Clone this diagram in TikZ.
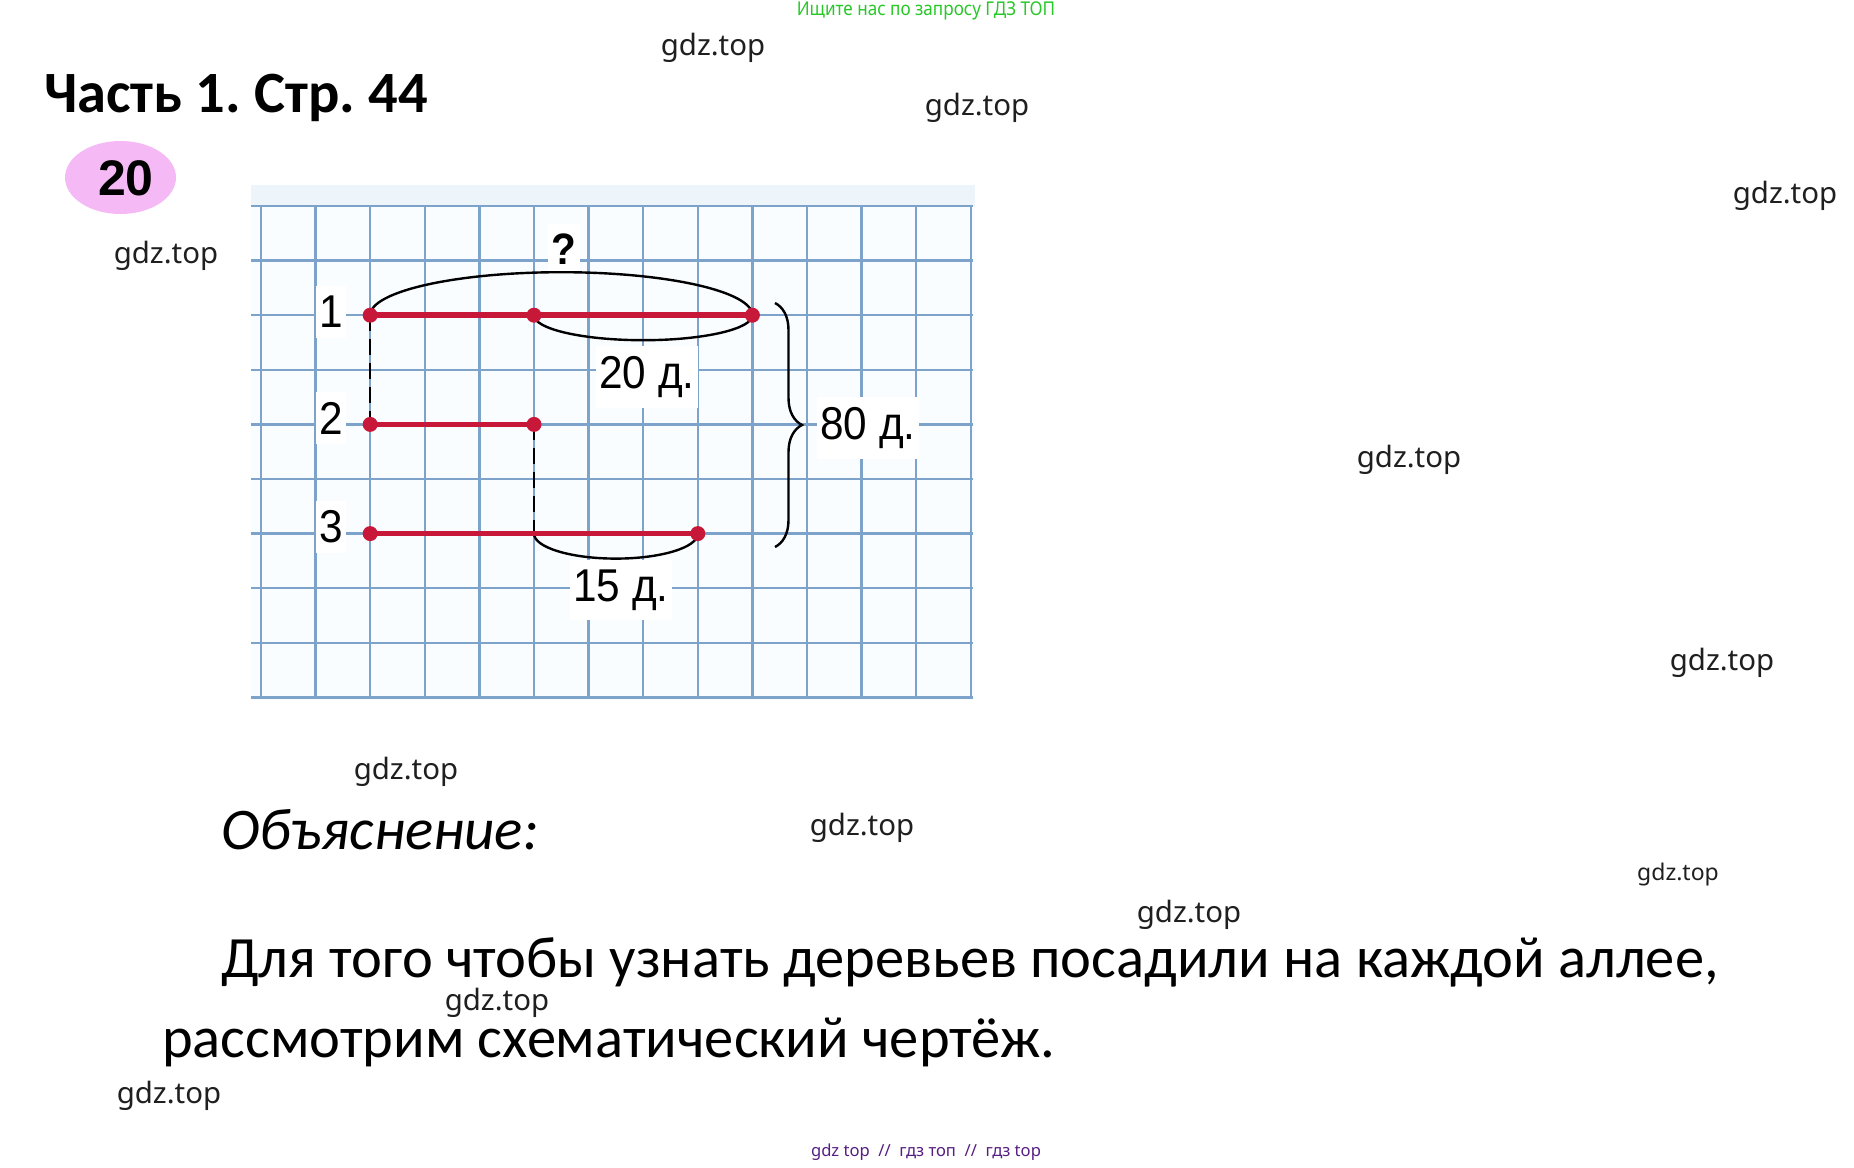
\documentclass[tikz,border=0pt]{standalone}
\usepackage{fontspec}
\setmainfont{Carlito}
\newfontfamily\wmfont{Noto Sans}
\newfontfamily\lblfont{Liberation Sans}
\usetikzlibrary{decorations.pathreplacing,shapes.geometric}
\definecolor{gridc}{RGB}{125,163,203}
\definecolor{redc}{RGB}{200,24,58}
\definecolor{pinkc}{RGB}{245,185,245}
\definecolor{greenc}{RGB}{40,200,40}
\definecolor{purplec}{RGB}{85,30,130}
\definecolor{bandc}{RGB}{238,245,250}
\definecolor{paperc}{RGB}{250,253,255}
\tikzset{
  gridline/.style={draw=gridc, line width=2.5pt},
  redline/.style={draw=redc, line width=5.5pt},
  reddot/.style={circle, fill=redc, inner sep=0pt, minimum size=15pt},
  arcline/.style={draw=black, line width=2.4pt},
  dashline/.style={draw=black, line width=2.4pt, dash pattern=on 16pt off 8pt},
  wm/.style={font=\wmfont\fontsize{29.4pt}{31pt}\selectfont, text=black!88, inner sep=0pt},
  lbl/.style={font=\lblfont\fontsize{46pt}{50pt}\selectfont, fill=white, xscale=0.92, inner xsep=4pt, inner ysep=10pt},
}
\begin{document}
\frenchspacing
\begin{tikzpicture}[x=1pt,y=-1pt]
\fill[white] (0,0) rectangle (1854,1167);
\path[use as bounding box] (0,0) rectangle (1854,1167);

% header
\node[font=\wmfont\fontsize{19pt}{20pt}\selectfont, text=greenc, xscale=0.9, inner sep=0pt] (top) at (926,11) {Ищите нас по запросу ГДЗ ТОП};
\node[anchor=base west, font=\bfseries\fontsize{58.5pt}{62pt}\selectfont, inner sep=0pt] (title) at (44,112) {Часть 1. Стр. 44};
\node[ellipse, fill=pinkc, minimum width=111pt, minimum height=73pt, inner sep=0pt] (circ) at (120.5,177.5) {};
\node[font=\lblfont\bfseries\fontsize{50pt}{54pt}\selectfont, inner sep=0pt] (num) at (126,178) {20};

% paper
\fill[bandc] (251,185) rectangle (975,206);
\fill[paperc] (251,206) rectangle (975,700);
\foreach \i in {0,...,13} \draw[gridline] ({261+54.6*\i},206) -- ({261+54.6*\i},698);
\foreach \j in {0,...,9} \draw[gridline] (251,{206+54.6*\j}) -- (973,{206+54.6*\j});

% labels with white background
\node[lbl] (l1) at (331,312) {1};
\node[lbl] (l2) at (331,418) {2};
\node[lbl] (l3) at (331,527) {3};
\node[lbl, font=\lblfont\bfseries\fontsize{44pt}{50pt}\selectfont] (q) at (564,249) {?};
\node[lbl] (t20) at (647,377) {20 д.};
\node[lbl] (t80) at (868,428) {80 д.};
\node[lbl] (t15) at (621,590) {15 д.};

% points
\coordinate (a1) at (370.2,315.2);
\coordinate (b1) at (534,315.2);
\coordinate (c1) at (752.4,315.2);
\coordinate (a2) at (370.2,424.4);
\coordinate (b2) at (534,424.4);
\coordinate (a3) at (370.2,533.6);
\coordinate (b3) at (534,533.6);
\coordinate (c3) at (697.8,533.6);

% dashed connectors
\draw[dashline] (a1) -- (a2);
\draw[dashline] (b2) -- (b3);

% arcs
\draw[arcline] (a1) .. controls (370.2,291.5) and (455.8,272.2) .. (561.3,272.2)
  .. controls (666.8,272.2) and (752.4,291.5) .. (c1);
\draw[arcline] (b1) .. controls (534,329) and (582.9,340.2) .. (643.2,340.2)
  .. controls (703.5,340.2) and (752.4,329) .. (c1);
\draw[arcline] (b3) .. controls (534,547.4) and (570.7,558.6) .. (615.9,558.6)
  .. controls (661.1,558.6) and (697.8,547.4) .. (c3);

% brace
\coordinate (br1) at (775,303);
\coordinate (br2) at (775,547);
\draw[black, line width=2.4pt, decorate, decoration={brace, amplitude=27pt}] (br1) -- (br2);

% red segments
\draw[redline] (a1) -- (c1);
\draw[redline] (a2) -- (b2);
\draw[redline] (a3) -- (c3);
\node[reddot] (da1) at (a1) {};
\node[reddot] (db1) at (b1) {};
\node[reddot] (dc1) at (c1) {};
\node[reddot] (da2) at (a2) {};
\node[reddot] (db2) at (b2) {};
\node[reddot] (da3) at (a3) {};
\node[reddot] (dc3) at (c3) {};

% watermarks
\node[wm] (w1) at (713,48) {gdz.top};
\node[wm] (w2) at (977,108) {gdz.top};
\node[wm] (w3) at (1785,196) {gdz.top};
\node[wm] (w4) at (166,256) {gdz.top};
\node[wm] (w5) at (1409,460) {gdz.top};
\node[wm] (w6) at (1722,663) {gdz.top};
\node[wm] (w7) at (406,772) {gdz.top};
\node[wm] (w8) at (862,828) {gdz.top};
\node[wm, font=\wmfont\fontsize{23pt}{24pt}\selectfont] (w9) at (1678,875) {gdz.top};
\node[wm] (w10) at (1189,915) {gdz.top};
\node[wm] (w11) at (497,1003) {gdz.top};
\node[wm] (w12) at (169,1096) {gdz.top};

% explanation text
\node[anchor=base west, font=\itshape\fontsize{59pt}{63pt}\selectfont, inner sep=0pt] (expl) at (221,849) {Объяснение:};
\node[anchor=base west, font=\fontsize{58.5pt}{62pt}\selectfont, inner sep=0pt] (body1) at (221,977) {Для того чтобы узнать деревьев посадили на каждой аллее,};
\node[anchor=base west, font=\fontsize{58.5pt}{62pt}\selectfont, inner sep=0pt] (body2) at (162,1057) {рассмотрим схематический чертёж.};

% footer
\node[font=\wmfont\fontsize{16.6pt}{18pt}\selectfont, text=purplec, inner sep=0pt] (foot) at (926,1152) {gdz top\ \ //\ \ гдз топ\ \ //\ \ гдз top};
\end{tikzpicture}
\end{document}
